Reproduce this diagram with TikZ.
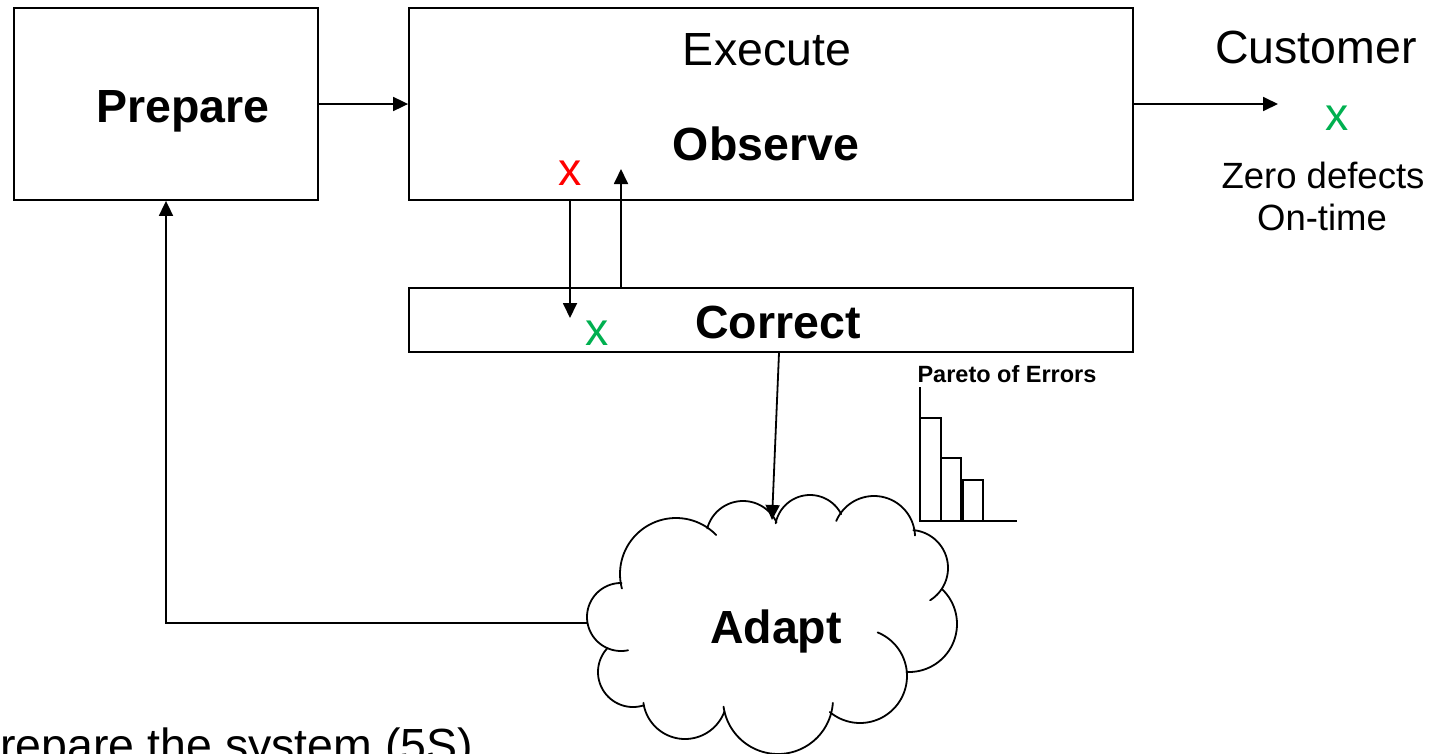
\documentclass[tikz,border=0pt]{standalone}
\usepackage{fontspec}
\setmainfont{Liberation Sans}
\usetikzlibrary{arrows.meta}
\definecolor{okgreen}{RGB}{0,176,80}
\definecolor{errred}{RGB}{255,0,0}

% one puff of the cloud outline: centre x, centre y, radius, start and end angle
\newcommand\cloudarc[5]{%
  \draw[cloudline] plot[domain=#4:#5, samples=60, variable=\t]
    ({#1+#3*cos(\t)},{#2+#3*sin(\t)});}

\begin{document}
\begin{tikzpicture}[x={(1pt,0)}, y={(0,-1pt)},
  box/.style={draw, line width=1.8pt, inner sep=0pt},
  conn/.style={line width=1.8pt, -{Triangle[length=15pt,width=14pt]}},
  cloudline/.style={line width=1.8pt, line cap=round},
  lbl/.style={font=\fontsize{46.5}{50}\selectfont, inner sep=0pt, anchor=base},
  boldlbl/.style={lbl, font=\fontsize{46.5}{50}\selectfont\bfseries},
  mark/.style={lbl},
  smalllbl/.style={font=\fontsize{36.5}{42}\selectfont, inner sep=0pt, anchor=base},
  chartlbl/.style={font=\fontsize{23.5}{26}\selectfont\bfseries, inner sep=0pt, anchor=base},
  bar/.style={line width=1.8pt}
]
\clip (0,0) rectangle (1441,753);

% main boxes
\node[box, minimum width=304pt, minimum height=192pt] (prepare) at (166,104) {};
\node[box, minimum width=724pt, minimum height=192pt] (execute) at (771,104) {};
\node[box, minimum width=724pt, minimum height=64pt]  (correct) at (771,320) {};

% box texts
\node[boldlbl] (prepTxt) at (183,122) {Prepare};
\node[lbl]     (execTxt) at (767,65) {Execute};
\node[boldlbl] (obsTxt)  at (766,160) {Observe};
\node[boldlbl] (corrTxt) at (778,338) {Correct};
\node[lbl, text=errred]  (errX) at (570,185) {x};
\node[lbl, text=okgreen] (fixX) at (597,345) {x};

% customer side
\node[lbl] (customer) at (1316,63) {Customer};
\node[lbl, text=okgreen] (custX) at (1337,130) {x};
\node[smalllbl] (zero) at (1323,188) {Zero defects};
\node[smalllbl] (ontime) at (1322,230) {On-time};

% cloud
\cloudarc{621}{617}{34}{78}{271}
\cloudarc{633}{672}{35}{72}{223}
\cloudarc{685}{697}{42}{20}{172}
\cloudarc{778}{699}{55}{4}{172}
\cloudarc{860}{676}{47}{-68}{130}
\cloudarc{909}{624}{48}{-47}{93}
\cloudarc{910}{568}{38}{-85}{58}
\cloudarc{874}{537}{41}{203}{358}
\cloudarc{810}{530}{35}{191}{333}
\cloudarc{743}{538}{37}{195}{335}
\cloudarc{676}{574}{56}{165}{316}
\node[boldlbl] (adapt) at (776,643) {Adapt};
\coordinate (adaptTop) at (772,520);
\coordinate (adaptLeft) at (587.5,623);

% Pareto chart
\node[chartlbl] (pareto) at (1007,382) {Pareto of Errors};
\draw[bar] (920,387) -- (920,521) -- (1017,521);
\draw[bar] (920,521) rectangle (941,418);
\draw[bar] (941,521) rectangle (961,458);
\draw[bar] (963,521) rectangle (983,480);

% connectors
\coordinate (custIn) at (1278,104);
\coordinate (errTip) at (570,318);
\coordinate (fixTip) at (621,169);
\draw[conn] (prepare.east) -- (prepare.east -| execute.west);
\draw[conn] (execute.east) -- (custIn);
\draw[conn] (errTip |- execute.south) -- (errTip);
\draw[conn] (fixTip |- correct.north) -- (fixTip);
\draw[conn] ([xshift=8pt]correct.south) -- (adaptTop);
\draw[conn] (adaptLeft) -| (prepare.south);

% note along the bottom edge
\node[lbl, anchor=base west] (note) at (-31,761) {Prepare the system (5S)};
\end{tikzpicture}
\end{document}
